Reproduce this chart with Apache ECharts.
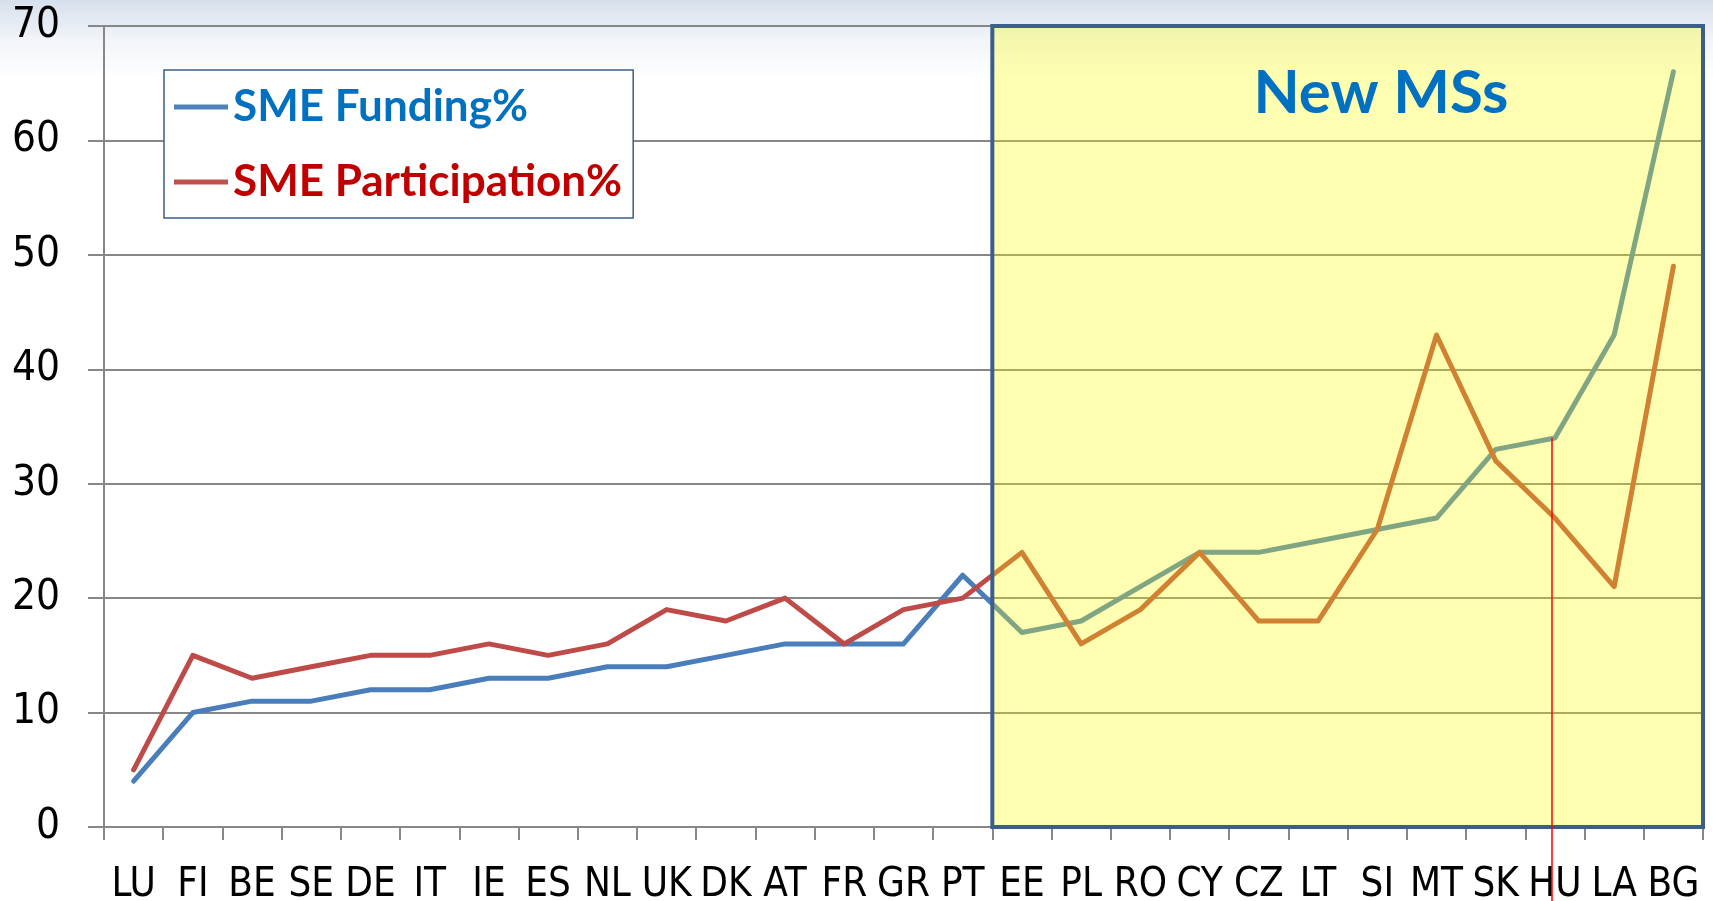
<!DOCTYPE html>
<html>
<head>
<meta charset="utf-8">
<title>SME Funding% / SME Participation%</title>
<script src="https://cdn.jsdelivr.net/npm/echarts@6/dist/echarts.min.js"></script>
<style>
    html, body { margin: 0; padding: 0; background: #fff; }
    #LineECharts { width: 1713px; height: 901px; }
</style>
</head>
<body>
<div id="LineECharts"></div>
<script>
    // categories (member states)
    const countries = ['LU', 'FI', 'BE', 'SE', 'DE', 'IT', 'IE', 'ES', 'NL', 'UK', 'DK', 'AT', 'FR', 'GR', 'PT',
        'EE', 'PL', 'RO', 'CY', 'CZ', 'LT', 'SI', 'MT', 'SK', 'HU', 'LA', 'BG'];
    // series values
    const smeFunding = [4, 10, 11, 11, 12, 12, 13, 13, 14, 14, 15, 16, 16, 16, 22,
        17, 18, 21, 24, 24, 25, 26, 27, 33, 34, 43, 66];
    const smeParticipation = [5, 15, 13, 14, 15, 15, 16, 15, 16, 19, 18, 20, 16, 19, 20,
        24, 16, 19, 24, 18, 18, 26, 43, 32, 27, 21, 49];
    // y tick labels
    const yTicks = [0, 10, 20, 30, 40, 50, 60, 70];
    // highlighted block of new member states, and the marked country
    const firstNewMs = 'EE';
    const markedCountry = 'HU';

    const axisFont = "'Liberation Sans Narrow', 'DejaVu Sans Condensed', sans-serif";
    const boldFont = "Lato, 'Liberation Sans', sans-serif";
    const gridColor = '#878787';
    const boxColor = '#3B5E8C';

    let myChart = echarts.init(document.getElementById('LineECharts'));
    myChart.setOption({
        animation: false,
        backgroundColor: {
            type: 'linear', x: 0, y: 0, x2: 0, y2: 1,
            colorStops: [
                { offset: 0, color: '#d6e0ec' },
                { offset: 0.045, color: '#f2f5f9' },
                { offset: 0.09, color: '#ffffff' },
                { offset: 1, color: '#ffffff' }
            ]
        },
        title: {
            text: 'New MSs',
            left: 1376,
            top: 59,
            z: 20,
            textAlign: 'center',
            textStyle: { color: '#0070C0', fontSize: 60, fontWeight: 'bold', fontFamily: boldFont }
        },
        legend: {
            orient: 'vertical',
            left: 164,
            top: 70,
            padding: [15, 11, 14, 10],
            itemGap: 31,
            itemWidth: 54,
            itemHeight: 5,
            icon: 'rect',
            backgroundColor: '#ffffff',
            borderColor: boxColor,
            borderWidth: 1.5,
            borderRadius: 0,
            textStyle: { fontSize: 44, fontWeight: 'bold', fontFamily: boldFont },
            data: [
                { name: 'SME Funding%', textStyle: { color: '#0070C0' }, itemStyle: { color: '#4F81BD' } },
                { name: 'SME Participation%', textStyle: { color: '#C00000' }, itemStyle: { color: '#C0504D' } }
            ]
        },
        grid: { left: 104, right: 10, top: 26, bottom: 74, outerBoundsMode: 'none' },
        xAxis: [
            {
                type: 'category',
                data: countries,
                boundaryGap: true,
                axisLine: { lineStyle: { color: gridColor, width: 2 } },
                axisTick: { show: true, interval: 0, length: 13, lineStyle: { color: gridColor, width: 2 } },
                axisLabel: { interval: 0, color: '#000', fontSize: 40, fontFamily: axisFont, margin: 39 }
            },
            // hidden value axis, used to place the highlight box on category edges
            { type: 'value', min: 0, max: countries.length, show: false }
        ],
        yAxis: {
            type: 'value',
            min: yTicks[0],
            max: yTicks[yTicks.length - 1],
            interval: yTicks[1] - yTicks[0],
            axisLine: { show: true, lineStyle: { color: gridColor, width: 2 } },
            axisTick: { show: true, length: 16, lineStyle: { color: gridColor, width: 2 } },
            splitLine: { lineStyle: { color: gridColor, width: 2 } },
            axisLabel: { color: '#000', fontSize: 42, fontFamily: axisFont, margin: 44 }
        },
        series: [
            {
                name: 'SME Funding%',
                type: 'line',
                data: smeFunding,
                symbol: 'none',
                z: 2,
                lineStyle: { color: '#4A7EBB', width: 5, join: 'round', cap: 'round' },
                itemStyle: { color: '#4A7EBB' }
            },
            {
                name: 'SME Participation%',
                type: 'line',
                data: smeParticipation,
                symbol: 'none',
                z: 3,
                lineStyle: { color: '#BE4B48', width: 5, join: 'round', cap: 'round' },
                itemStyle: { color: '#BE4B48' }
            },
            {
                id: 'newMs',
                type: 'line',
                xAxisIndex: 1,
                data: [],
                markArea: {
                    silent: true,
                    z: 10,
                    itemStyle: { color: 'rgba(255,255,0,0.3)', borderColor: boxColor, borderWidth: 4 },
                    data: [[
                        { xAxis: countries.indexOf(firstNewMs), yAxis: yTicks[0] },
                        { xAxis: countries.length, yAxis: yTicks[yTicks.length - 1] }
                    ]]
                }
            }
        ]
    });

    // thin red marker from the HU funding point down past the labels
    const hx = myChart.convertToPixel({ xAxisIndex: 0 }, markedCountry);
    const hy = myChart.convertToPixel({ yAxisIndex: 0 }, smeFunding[countries.indexOf(markedCountry)]);
    myChart.setOption({
        series: [{
            id: 'marker',
            type: 'line',
            data: [],
            markLine: {
                silent: true,
                z: 12,
                symbol: 'none',
                label: { show: false },
                lineStyle: { color: '#ff0000', width: 1.5, type: 'solid' },
                data: [[{ x: hx - 3, y: hy }, { x: hx - 3, y: '100%' }]]
            }
        }]
    });

    window.onresize = () => {
        myChart.resize();
    };
</script>
</body>
</html>
